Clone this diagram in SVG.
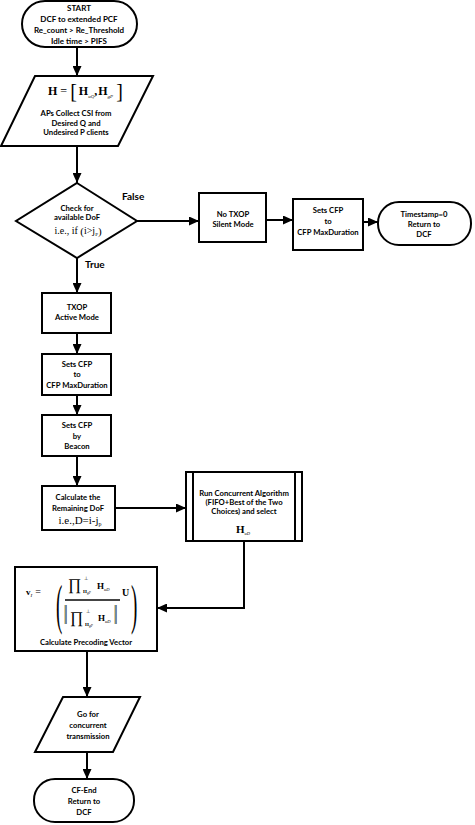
<svg xmlns="http://www.w3.org/2000/svg" width="475" height="825" viewBox="0 0 475 825">
<style>
.s{fill:#fff;stroke:#000;stroke-width:2}
.t{font-family:Lato,"Open Sans",sans-serif;font-weight:bold;font-size:8px;text-anchor:middle;fill:#000}
.ts{font-family:Lato,"Open Sans",sans-serif;font-weight:bold;font-size:7.7px;text-anchor:middle;fill:#000}
.m{font-family:"Liberation Serif",serif;fill:#000}
.mb{font-family:"Liberation Serif",serif;font-weight:bold;fill:#000}
.c{stroke:#000;stroke-width:2;fill:none}
.lbl{font-family:Lato,"Open Sans",sans-serif;font-weight:bold;font-size:10px;fill:#000}
.n{font-weight:normal}
.i{font-weight:normal;font-style:italic}
</style>
<defs>
<marker id="a" markerUnits="userSpaceOnUse" markerWidth="11" markerHeight="9" refX="10" refY="4.5" orient="auto">
<path d="M0,0 L10,4.5 L0,9 z" fill="#000"/>
</marker>
</defs>
<g id="connectors">
<line class="c" x1="77" y1="47" x2="77" y2="76" marker-end="url(#a)"/>
<line class="c" x1="77" y1="146" x2="77" y2="183" marker-end="url(#a)"/>
<line class="c" x1="137" y1="221" x2="199" y2="221" marker-end="url(#a)"/>
<line class="c" x1="266" y1="220" x2="293" y2="220" marker-end="url(#a)"/>
<line class="c" x1="363" y1="222" x2="378" y2="222" marker-end="url(#a)"/>
<line class="c" x1="77" y1="258" x2="77" y2="293" marker-end="url(#a)"/>
<line class="c" x1="77" y1="333" x2="77" y2="354" marker-end="url(#a)"/>
<line class="c" x1="77" y1="395" x2="77" y2="415" marker-end="url(#a)"/>
<line class="c" x1="77" y1="456" x2="77" y2="486" marker-end="url(#a)"/>
<line class="c" x1="115" y1="508" x2="186" y2="508" marker-end="url(#a)"/>
<polyline class="c" points="244,541 244,608 157,608" marker-end="url(#a)"/>
<line class="c" x1="87" y1="651" x2="87" y2="697" marker-end="url(#a)"/>
<line class="c" x1="87" y1="752" x2="87" y2="779" marker-end="url(#a)"/>
<text class="lbl" x="122" y="200">False</text>
<text class="lbl" x="85" y="268">True</text>
</g>
<g id="start">
<rect class="s" x="22" y="1" width="115" height="46" rx="23"/>
<text class="t" x="79" y="11">START</text>
<text class="t" x="79" y="22">DCF to extended PCF</text>
<text class="t" x="79" y="33">Re_count &gt; Re_Threshold</text>
<text class="t" x="79" y="44">Idle time &gt; PIFS</text>
</g>
<g id="collect">
<polygon class="s" points="35,76 153,76 118,146 1,146"/>
<text class="mb" x="48" y="95" font-size="12">H<tspan class="n" dx="3">=</tspan><tspan class="n" font-size="20" dx="3" dy="3">[</tspan><tspan dx="2" dy="-3">H</tspan><tspan class="i" font-size="5" dy="3">uQ</tspan><tspan dy="-3">,</tspan><tspan dx="1">H</tspan><tspan class="i" font-size="5" dy="3">gP</tspan><tspan class="n" font-size="20" dx="3">]</tspan></text>
<text class="ts" x="76" y="116">APs Collect CSI from</text>
<text class="ts" x="76" y="126">Desired Q and</text>
<text class="ts" x="76" y="135">Undesired P clients</text>
</g>
<g id="check">
<polygon class="s" points="77,183 137,221 77,258 16,221"/>
<text class="ts" x="77" y="211">Check for</text>
<text class="ts" x="77" y="220">available DoF</text>
<text class="m" x="78" y="234" font-size="10" text-anchor="middle">i.e., if <tspan font-size="11" dy="1">(</tspan><tspan dy="-1">i&gt;j</tspan><tspan font-size="5" dy="2">P</tspan><tspan font-size="11" dy="-1">)</tspan></text>
</g>
<g id="notxop">
<rect class="s" x="199" y="193" width="67" height="49"/>
<text class="ts" x="233" y="217">No TXOP</text>
<text class="ts" x="233" y="227">Silent Mode</text>
</g>
<g id="setscfp2">
<rect class="s" x="293" y="199" width="70" height="51"/>
<text class="ts" x="328" y="213">Sets CFP</text>
<text class="ts" x="328" y="224">to</text>
<text class="ts" x="328" y="235">CFP MaxDuration</text>
</g>
<g id="timestamp">
<rect class="s" x="378" y="202" width="93" height="43" rx="21"/>
<text class="ts" x="424" y="217">Timestamp=0</text>
<text class="ts" x="424" y="227">Return to</text>
<text class="ts" x="424" y="237">DCF</text>
</g>
<g id="txop">
<rect class="s" x="42" y="293" width="69" height="40"/>
<text class="ts" x="77" y="310">TXOP</text>
<text class="ts" x="77" y="320">Active Mode</text>
</g>
<g id="setscfp1">
<rect class="s" x="42" y="354" width="69" height="41"/>
<text class="ts" x="77" y="367">Sets CFP</text>
<text class="ts" x="77" y="377">to</text>
<text class="ts" x="77" y="388">CFP MaxDuration</text>
</g>
<g id="beacon">
<rect class="s" x="42" y="415" width="69" height="41"/>
<text class="ts" x="77" y="428">Sets CFP</text>
<text class="ts" x="77" y="439">by</text>
<text class="ts" x="77" y="449">Beacon</text>
</g>
<g id="calc">
<rect class="s" x="42" y="486" width="73" height="44"/>
<text class="ts" x="78" y="500">Calculate the</text>
<text class="ts" x="78" y="511">Remaining DoF</text>
<text class="m" x="80" y="524" font-size="11" text-anchor="middle">i.e.,D=i-j<tspan font-size="6" dy="2">p</tspan></text>
</g>
<g id="concurrent">
<rect class="s" x="186" y="472" width="116" height="69"/>
<line class="c" x1="193" y1="472" x2="193" y2="541"/>
<line class="c" x1="295" y1="472" x2="295" y2="541"/>
<text class="ts" x="244" y="496" font-size="6.6">Run Concurrent Algorithm</text>
<text class="ts" x="244" y="505" font-size="6.6">(FIFO+Best of the Two</text>
<text class="ts" x="244" y="514" font-size="6.6">Choices) and select</text>
<text class="mb" x="236" y="533" font-size="11">H<tspan class="i" font-size="4.5" dy="2">uD</tspan></text>
</g>
<g id="precoding">
<rect class="s" x="15" y="567" width="142" height="84"/>
<text class="mb" x="26" y="595" font-size="9">v<tspan class="i" font-size="5" dy="2">I</tspan><tspan class="n" font-size="10" dx="3" dy="-2">=</tspan></text>
<text class="m" transform="translate(56,623) scale(1,2.9)" font-size="19">(</text>
<text class="m" x="68" y="590" font-size="16">∏</text>
<text class="m" x="84" y="580" font-size="5">⊥</text>
<text class="mb" x="83" y="593" font-size="5">H<tspan class="i" font-size="3.5" dy="1">gP</tspan></text>
<text class="mb" x="97" y="589" font-size="9">H<tspan class="i" font-size="4.5" dy="2">uD</tspan></text>
<line x1="65" y1="600" x2="120" y2="600" stroke="#444" stroke-width="2"/>
<text class="m" transform="translate(64,624) scale(1,2.2)" font-size="12">‖</text>
<text class="m" transform="translate(114,624) scale(1,2.2)" font-size="12">‖</text>
<text class="m" x="70" y="623" font-size="16">∏</text>
<text class="m" x="86" y="613" font-size="5">⊥</text>
<text class="mb" x="85" y="626" font-size="5">H<tspan class="i" font-size="3.5" dy="1">gP</tspan></text>
<text class="mb" x="98" y="621" font-size="9">H<tspan class="i" font-size="4.5" dy="2">uD</tspan></text>
<text class="mb" x="122" y="596" font-size="10">U</text>
<text class="m" transform="translate(131,623) scale(1,2.9)" font-size="19">)</text>
<text class="ts" x="86" y="645">Calculate Precoding Vector</text>
</g>
<g id="transmission">
<polygon class="s" points="63,697 140,697 113,752 35,752"/>
<text class="ts" x="88" y="717">Go for</text>
<text class="ts" x="88" y="728">concurrent</text>
<text class="ts" x="88" y="739">transmission</text>
</g>
<g id="cfend">
<rect class="s" x="34" y="779" width="100" height="43" rx="21"/>
<text class="ts" x="84" y="793">CF-End</text>
<text class="ts" x="84" y="804">Return to</text>
<text class="ts" x="84" y="815">DCF</text>
</g>
</svg>
